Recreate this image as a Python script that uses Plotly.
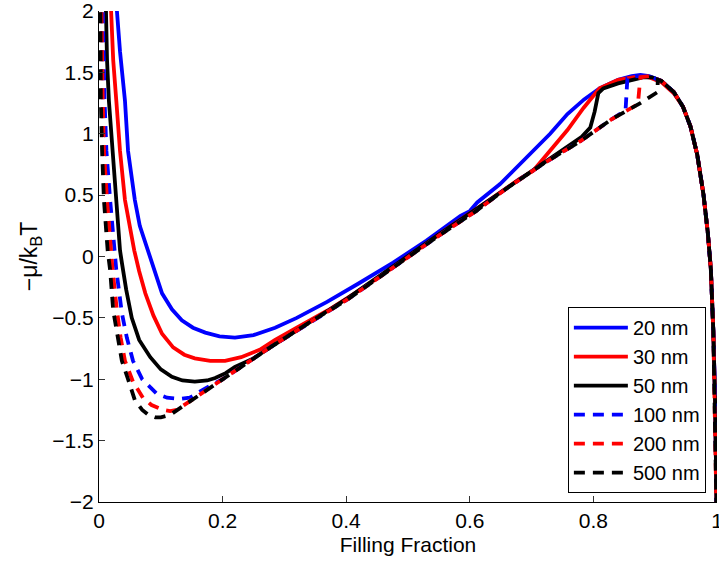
import plotly.graph_objects as go

# ---- data ----
x_20 = [0.026, 0.029, 0.034, 0.042, 0.047, 0.058, 0.066, 0.079, 0.090, 0.102, 0.118, 0.134, 0.152, 0.172, 0.195,
        0.220, 0.250, 0.285, 0.320, 0.369, 0.420, 0.476, 0.530, 0.585, 0.600, 0.612, 0.649, 0.680, 0.703, 0.730,
        0.758, 0.785, 0.810, 0.840, 0.862, 0.876, 0.890, 0.910, 0.930, 0.945, 0.957, 0.968, 0.978, 0.985, 0.990,
        0.994, 0.997, 0.999, 1.000]
y_20 = [2.3, 2.0, 1.67, 1.27, 0.86, 0.46, 0.25, 0.05, -0.12, -0.30, -0.43, -0.52, -0.58, -0.62, -0.65,
        -0.66, -0.64, -0.58, -0.50, -0.37, -0.22, -0.05, 0.13, 0.33, 0.37, 0.44, 0.59, 0.75, 0.86, 1.00,
        1.16, 1.28, 1.37, 1.44, 1.47, 1.48, 1.47, 1.43, 1.34, 1.22, 1.06, 0.83, 0.51, 0.20, -0.10,
        -0.60, -1.20, -1.70, -2.30]

x_30 = [0.017, 0.019, 0.023, 0.028, 0.034, 0.042, 0.049, 0.057, 0.065, 0.075, 0.088, 0.102, 0.120, 0.138, 0.155,
        0.180, 0.204, 0.230, 0.260, 0.285, 0.320, 0.370, 0.420, 0.470, 0.520, 0.570, 0.620, 0.660, 0.680, 0.703,
        0.730, 0.758, 0.784, 0.810, 0.840, 0.862, 0.876, 0.890, 0.910, 0.930, 0.945, 0.957, 0.968, 0.978, 0.985,
        0.990, 0.994, 0.997, 0.999, 1.000]
y_30 = [2.3, 2.0, 1.6, 1.27, 0.86, 0.46, 0.25, 0.05, -0.12, -0.30, -0.48, -0.63, -0.74, -0.80, -0.83,
        -0.85, -0.85, -0.82, -0.76, -0.68, -0.58, -0.44, -0.28, -0.11, 0.07, 0.25, 0.42, 0.56, 0.63, 0.70,
        0.86, 1.03, 1.21, 1.37, 1.44, 1.46, 1.47, 1.46, 1.42, 1.33, 1.22, 1.06, 0.83, 0.51, 0.20,
        -0.10, -0.60, -1.20, -1.70, -2.30]

x_50 = [0.010, 0.011, 0.013, 0.016, 0.022, 0.028, 0.034, 0.037, 0.044, 0.053, 0.065, 0.083, 0.100, 0.118, 0.135,
        0.155, 0.175, 0.188, 0.205, 0.220, 0.250, 0.277, 0.330, 0.402, 0.476, 0.550, 0.661, 0.720, 0.758, 0.780,
        0.795, 0.802, 0.808, 0.816, 0.840, 0.862, 0.880, 0.895, 0.910, 0.930, 0.945, 0.957, 0.968, 0.978, 0.985,
        0.990, 0.994, 0.997, 0.999, 1.000]
y_50 = [2.3, 2.0, 1.6, 1.27, 0.86, 0.46, 0.05, -0.05, -0.27, -0.50, -0.68, -0.82, -0.92, -0.98, -1.01,
        -1.02, -1.01, -0.99, -0.95, -0.90, -0.83, -0.74, -0.57, -0.34, -0.08, 0.18, 0.56, 0.76, 0.89, 0.97,
        1.05, 1.18, 1.33, 1.37, 1.41, 1.44, 1.46, 1.46, 1.43, 1.34, 1.22, 1.06, 0.83, 0.51, 0.20,
        -0.10, -0.60, -1.20, -1.70, -2.30]

x_100 = [0.006, 0.006, 0.009, 0.012, 0.018, 0.025, 0.028, 0.037, 0.045, 0.055, 0.070, 0.094, 0.110, 0.131, 0.147,
         0.170, 0.200, 0.277, 0.340, 0.402, 0.476, 0.550, 0.610, 0.661, 0.720, 0.779, 0.830, 0.852, 0.855, 0.870,
         0.890, 0.910, 0.930, 0.945, 0.957, 0.968, 0.978, 0.985, 0.990, 0.994, 0.997, 0.999, 1.000]
y_100 = [2.3, 2.0, 1.27, 0.86, 0.46, 0.05, -0.11, -0.46, -0.66, -0.85, -1.00, -1.12, -1.15, -1.16, -1.15,
         -1.08, -1.00, -0.74, -0.54, -0.35, -0.09, 0.17, 0.37, 0.56, 0.76, 0.94, 1.12, 1.19, 1.45, 1.47,
         1.47, 1.43, 1.34, 1.22, 1.06, 0.83, 0.51, 0.20, -0.10, -0.60, -1.20, -1.70, -2.30]

x_200 = [0.004, 0.004, 0.006, 0.008, 0.013, 0.019, 0.022, 0.029, 0.035, 0.042, 0.055, 0.071, 0.085, 0.104, 0.115,
         0.126, 0.150, 0.200, 0.277, 0.340, 0.402, 0.476, 0.550, 0.610, 0.661, 0.720, 0.779, 0.830, 0.872, 0.876,
         0.890, 0.910, 0.930, 0.945, 0.957, 0.968, 0.978, 0.985, 0.990, 0.994, 0.997, 0.999, 1.000]
y_200 = [2.3, 2.0, 1.27, 0.86, 0.46, 0.05, -0.11, -0.44, -0.66, -0.85, -1.02, -1.15, -1.21, -1.25, -1.26,
         -1.25, -1.17, -1.00, -0.74, -0.54, -0.35, -0.09, 0.17, 0.37, 0.56, 0.76, 0.94, 1.12, 1.24, 1.46,
         1.47, 1.43, 1.34, 1.22, 1.06, 0.83, 0.51, 0.20, -0.10, -0.60, -1.20, -1.70, -2.30]

x_500 = [0.002, 0.002, 0.003, 0.005, 0.008, 0.014, 0.018, 0.023, 0.030, 0.037, 0.047, 0.058, 0.070, 0.080, 0.091,
         0.100, 0.115, 0.150, 0.200, 0.277, 0.340, 0.402, 0.476, 0.550, 0.610, 0.661, 0.720, 0.779, 0.830, 0.876,
         0.904, 0.904, 0.910, 0.930, 0.945, 0.957, 0.968, 0.978, 0.985, 0.990, 0.994, 0.997, 0.999, 1.000]
y_500 = [2.3, 2.0, 1.27, 0.86, 0.46, 0.05, -0.11, -0.44, -0.66, -0.85, -1.00, -1.17, -1.25, -1.29, -1.31,
         -1.31, -1.29, -1.17, -1.00, -0.74, -0.54, -0.35, -0.09, 0.17, 0.37, 0.56, 0.76, 0.94, 1.12, 1.25,
         1.34, 1.44, 1.43, 1.34, 1.22, 1.06, 0.83, 0.51, 0.20, -0.10, -0.60, -1.20, -1.70, -2.30]

series_names = ["20 nm", "30 nm", "50 nm", "100 nm", "200 nm", "500 nm"]
series_x = [x_20, x_30, x_50, x_100, x_200, x_500]
series_y = [y_20, y_30, y_50, y_100, y_200, y_500]
colors = ["#0000ff", "#ff0000", "#000000", "#0000ff", "#ff0000", "#000000"]
dashes = ["solid", "solid", "solid", "11px,8px", "11px,8px", "11px,8px"]

x_ticks = [0, 0.2, 0.4, 0.6, 0.8, 1]
x_ticktext = ["0", "0.2", "0.4", "0.6", "0.8", "1"]
y_ticks = [-2, -1.5, -1, -0.5, 0, 0.5, 1, 1.5, 2]
y_ticktext = ["\u22122", "\u22121.5", "\u22121", "\u22120.5", "0", "0.5", "1", "1.5", "2"]

FONT = "Liberation Sans, Arial, Helvetica, sans-serif"

fig = go.Figure()
for nm, xs, ys, c, d in zip(series_names, series_x, series_y, colors, dashes):
    fig.add_trace(go.Scatter(x=xs, y=ys, mode="lines", name=nm,
                             line=dict(color=c, width=3.8, dash=d)))

fig.update_layout(
    width=719, height=562,
    margin=dict(l=99, r=2, t=11, b=60, autoexpand=False),
    paper_bgcolor="white", plot_bgcolor="white",
    font=dict(family=FONT, size=21, color="black"),
    showlegend=True,
    legend=dict(x=0.982, y=0.018, xanchor="right", yanchor="bottom",
                bgcolor="white", bordercolor="black", borderwidth=1,
                font=dict(family=FONT, size=20, color="black"),
                itemwidth=54, tracegroupgap=0),
    xaxis=dict(range=[0, 1], tickmode="array", tickvals=x_ticks, ticktext=x_ticktext,
               ticks="inside", ticklen=6, tickcolor="#333", showline=True, linecolor="black",
               linewidth=1, showgrid=False, zeroline=False, mirror=False,
               ticklabeloverflow="allow", automargin=False,
               title=dict(text="Filling Fraction", standoff=6, font=dict(size=21))),
    yaxis=dict(range=[-2, 2], tickmode="array", tickvals=y_ticks, ticktext=y_ticktext,
               ticks="inside", ticklen=6, tickcolor="#333", showline=True, linecolor="black",
               linewidth=1, showgrid=False, zeroline=False, mirror=False,
               ticklabeloverflow="allow", automargin=False,
               title=dict(text="\u2212\u03bc/k<sub>B</sub>T", standoff=8, font=dict(size=23))),
)

fig.write_html("out.html")
